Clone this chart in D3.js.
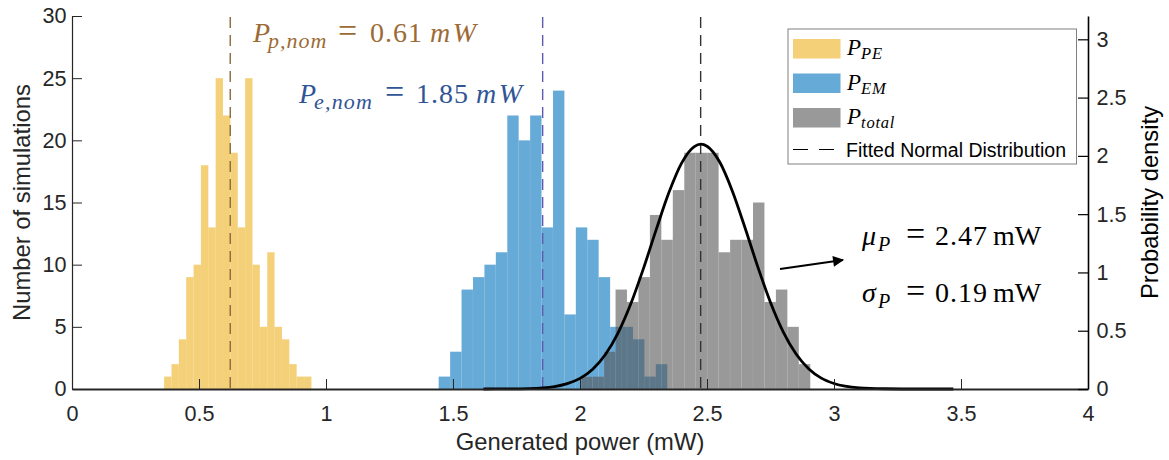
<!DOCTYPE html>
<html>
<head>
<meta charset="utf-8">
<script src="https://cdn.jsdelivr.net/npm/d3@7/dist/d3.min.js"></script>
<style>
  html, body { margin: 0; padding: 0; background: #fff; }
  svg { display: block; }
  .tick text { font-family: "Liberation Sans", Arial, sans-serif; font-size: 21.6px; fill: #262626; }
</style>
</head>
<body>
<svg id="chart" width="1169" height="460"></svg>
<script>
// ---------------- DATA ----------------
// Piezoelectric power histogram (counts per bin)
const pePowerBinStart = 0.3626;   // mW
const pePowerBinWidth = 0.029;    // mW
const pePowerCounts = [1, 2, 4, 9, 10, 18, 13, 25, 22, 19, 13, 25, 10, 5, 11, 5, 4, 2, 1, 1];

// Electromagnetic power histogram
const emPowerBinStart = 1.4436;
const emPowerBinWidth = 0.045;
const emPowerCounts = [1, 3, 8, 9, 10, 11, 22, 20, 22, 13, 24, 6, 13, 12, 9, 5, 5, 4, 1, 2];

// Total power histogram
const totalPowerBinStart = 2.0046;
const totalPowerBinWidth = 0.0451;
const totalPowerCounts = [1, 1, 3, 8, 7, 9, 14, 12, 16, 19, 19, 19, 11, 12, 12, 15, 7, 8, 5, 2];

// Fitted normal distribution (probability density, right axis)
const fitX = [1.62, 1.70, 1.80, 1.90, 1.95, 2.00, 2.05, 2.10, 2.15, 2.20, 2.25, 2.30, 2.35, 2.40, 2.45, 2.476,
              2.50, 2.55, 2.60, 2.65, 2.70, 2.75, 2.80, 2.85, 2.90, 2.95, 3.00, 3.10, 3.20, 3.30, 3.47];
const fitDensity = [0.000, 0.001, 0.004, 0.021, 0.046, 0.091, 0.170, 0.296, 0.482, 0.731, 1.035, 1.367, 1.685, 1.938, 2.080, 2.100,
                    2.083, 1.947, 1.697, 1.381, 1.048, 0.742, 0.490, 0.302, 0.174, 0.093, 0.047, 0.010, 0.002, 0.000, 0.000];

// Vertical reference lines (mW)
const nominalPe = 0.623;
const nominalEm = 1.853;
const fittedMean = 2.475;

// Axis ticks
const xTicks = [0, 0.5, 1, 1.5, 2, 2.5, 3, 3.5, 4];
const yLeftTicks = [0, 5, 10, 15, 20, 25, 30];
const yRightTicks = [0, 0.5, 1, 1.5, 2, 2.5, 3];

// Texts
const xLabel = "Generated power (mW)";
const yLeftLabel = "Number of simulations";
const yRightLabel = "Probability density";

// ---------------- CHART ----------------
const svg = d3.select("#chart");
const L = 72, R = 1088, T = 16, B = 389;
const x = d3.scaleLinear().domain([0, 4]).range([L, R]);
const yL = d3.scaleLinear().domain([0, 30]).range([B, T]);
const yR = d3.scaleLinear().domain([0, 3.2]).range([B, T]);

const sans = '"Liberation Sans", Arial, sans-serif';
const serif = '"Liberation Serif", "DejaVu Serif", serif';

function drawHist(start, width, counts, fill, opacity) {
  const bins = counts.map((c, i) => ({ x0: start + i * width, x1: start + (i + 1) * width, c }));
  svg.append("g").selectAll("rect").data(bins).join("rect")
    .attr("x", d => x(d.x0))
    .attr("y", d => yL(d.c))
    .attr("width", d => x(d.x1) - x(d.x0))
    .attr("height", d => yL(0) - yL(d.c))
    .attr("fill", fill)
    .attr("fill-opacity", opacity)
    .attr("stroke", "#ffffff")
    .attr("stroke-opacity", 0.08)
    .attr("stroke-width", 0.7);
}

drawHist(pePowerBinStart, pePowerBinWidth, pePowerCounts, "rgb(237,177,32)", 0.6);
drawHist(emPowerBinStart, emPowerBinWidth, emPowerCounts, "rgb(0,114,189)", 0.6);
drawHist(totalPowerBinStart, totalPowerBinWidth, totalPowerCounts, "rgb(85,85,85)", 0.6);

// dashed reference lines
function vline(v, color) {
  svg.append("line")
    .attr("x1", x(v)).attr("x2", x(v))
    .attr("y1", T + 1).attr("y2", B)
    .attr("stroke", color).attr("stroke-width", 1.4)
    .attr("stroke-dasharray", "11,7");
}
vline(nominalPe, "#8a6a3c");
vline(nominalEm, "#5b5bb0");
vline(fittedMean, "#333333");

// fitted normal curve
const fitPts = fitX.map((v, i) => [v, fitDensity[i]]);
svg.append("path")
  .datum(fitPts)
  .attr("fill", "none")
  .attr("stroke", "#000")
  .attr("stroke-width", 2.8)
  .attr("d", d3.line().x(d => x(d[0])).y(d => yR(d[1])).curve(d3.curveMonotoneX));

// axes
const axB = svg.append("g").attr("transform", `translate(0,${B})`)
  .call(d3.axisBottom(x).tickValues(xTicks).tickFormat(d3.format("")).tickSizeInner(-10).tickSizeOuter(0).tickPadding(17));
axB.select(".domain").attr("stroke", "#262626").attr("stroke-width", 2);
axB.selectAll(".tick line").attr("stroke", "#262626").attr("stroke-width", 1);

const axL = svg.append("g").attr("transform", `translate(${L},0)`)
  .call(d3.axisLeft(yL).tickValues(yLeftTicks).tickSizeInner(-10).tickSizeOuter(0).tickPadding(5.5));
axL.select(".domain").attr("stroke", "#262626").attr("stroke-width", 1.2);
axL.selectAll(".tick line").attr("stroke", "#262626");

const axR = svg.append("g").attr("transform", `translate(${R},0)`)
  .call(d3.axisRight(yR).tickValues(yRightTicks).tickFormat(d3.format("")).tickSizeInner(-10).tickSizeOuter(0).tickPadding(8.5));
axR.select(".domain").attr("stroke", "#000").attr("stroke-width", 1.6);
axR.selectAll(".tick line").attr("stroke", "#000").attr("stroke-width", 1.2);
axR.selectAll(".tick text").attr("fill", "#000");

// axis labels
svg.append("text").attr("x", (L + R) / 2).attr("y", 450)
  .attr("text-anchor", "middle").attr("font-family", sans).attr("font-size", 23.8).attr("fill", "#262626")
  .text(xLabel);
svg.append("text").attr("transform", `translate(30,${(T + B) / 2}) rotate(-90)`)
  .attr("text-anchor", "middle").attr("font-family", sans).attr("font-size", 23.8).attr("fill", "#262626")
  .text(yLeftLabel);
svg.append("text").attr("transform", `translate(1158,${(T + B) / 2}) rotate(-90)`)
  .attr("text-anchor", "middle").attr("font-family", sans).attr("font-size", 23.8).attr("fill", "#000")
  .text(yRightLabel);

// math-style annotations: each part placed at its own x offset from the start
function mathText(px, py, parts, color, size, subSize, subShift) {
  const t = svg.append("text")
    .attr("font-family", serif).attr("font-size", size).attr("fill", color);
  parts.forEach(p => {
    const ts = t.append("tspan").text(p.t)
      .attr("x", px + p.dx)
      .attr("y", p.sub ? py + subShift : py);
    if (p.i) ts.attr("font-style", "italic");
    if (p.sub) ts.attr("font-size", subSize);
    if (p.fs) ts.attr("font-size", p.fs);
    if (p.ls) ts.attr("letter-spacing", p.ls);
  });
  return t;
}
mathText(253, 42, [
  { t: "P", dx: 0, i: 1 }, { t: "p,nom", dx: 15, i: 1, sub: 1, ls: 1 },
  { t: "=", dx: 85, fs: 34 }, { t: "0.61", dx: 117, ls: 1 }, { t: "mW", dx: 177, i: 1, ls: 2.5 }
], "#9c6b35", 28, 22, 6);
mathText(299, 103, [
  { t: "P", dx: 0, i: 1 }, { t: "e,nom", dx: 15, i: 1, sub: 1, ls: 1.2 },
  { t: "=", dx: 86, fs: 34 }, { t: "1.85", dx: 117, ls: 1 }, { t: "mW", dx: 177, i: 1, ls: 2.5 }
], "#2f5597", 28, 22, 6);
mathText(862, 245, [
  { t: "μ", dx: 0, i: 1 }, { t: "P", dx: 16, i: 1, sub: 1 },
  { t: "=", dx: 44, fs: 34 }, { t: "2.47", dx: 73, ls: 1 }, { t: "mW", dx: 131 }
], "#000", 28, 20, 6);
mathText(862, 302, [
  { t: "σ", dx: 0, i: 1 }, { t: "P", dx: 16, i: 1, sub: 1 },
  { t: "=", dx: 44, fs: 34 }, { t: "0.19", dx: 73, ls: 1 }, { t: "mW", dx: 131 }
], "#000", 28, 20, 6);

// arrow
svg.append("defs").append("marker").attr("id", "ah")
  .attr("viewBox", "0 0 10 10").attr("refX", 9).attr("refY", 5)
  .attr("markerWidth", 6).attr("markerHeight", 5).attr("orient", "auto")
  .append("path").attr("d", "M0,0 L10,5 L0,10 Z").attr("fill", "#000");
svg.append("line").attr("x1", 780).attr("y1", 269).attr("x2", 843).attr("y2", 260)
  .attr("stroke", "#000").attr("stroke-width", 2.2).attr("marker-end", "url(#ah)");

// legend
const lg = svg.append("g");
lg.append("rect").attr("x", 788).attr("y", 29).attr("width", 288.5).attr("height", 135)
  .attr("fill", "#fff").attr("stroke", "#808080").attr("stroke-width", 1);
const legendItems = [
  { fill: "rgb(237,177,32)", y: 39, sub: "PE" },
  { fill: "rgb(0,114,189)", y: 73.5, sub: "EM" },
  { fill: "rgb(85,85,85)", y: 108, sub: "total" }
];
legendItems.forEach(it => {
  lg.append("rect").attr("x", 793).attr("y", it.y).attr("width", 47.5).attr("height", 19.5)
    .attr("fill", it.fill).attr("fill-opacity", 0.6);
  mathText(847, it.y + 16, [{ t: "P", dx: 0, i: 1 }, { t: it.sub, dx: 14, i: 1, sub: 1, ls: 0.8 }], "#000", 23, 16.5, 4);
});
lg.append("line").attr("x1", 793).attr("x2", 841).attr("y1", 149.5).attr("y2", 149.5)
  .attr("stroke", "#000").attr("stroke-width", 1.2).attr("stroke-dasharray", "15,11");
lg.append("text").attr("x", 846).attr("y", 156.5).attr("font-family", sans).attr("font-size", 19.5).attr("fill", "#000")
  .text("Fitted Normal Distribution");
</script>
</body>
</html>
